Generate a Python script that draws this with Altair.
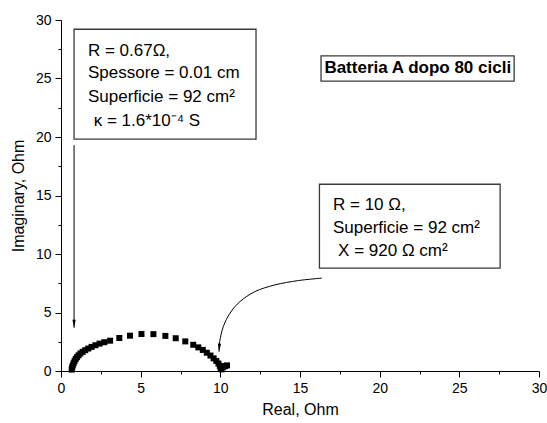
import altair as alt
import pandas as pd

# Impedance data (Real, Imaginary)
re_vals = [0.67, 0.70, 0.74, 0.79, 0.85, 0.92, 1.00, 1.10, 1.22, 1.36, 1.52, 1.71, 1.92,
           2.16, 2.42, 2.72, 3.08, 3.66, 4.33, 5.05, 5.80, 6.55, 7.20, 7.80, 8.30, 8.62,
           8.90, 9.15, 9.38, 9.58, 9.75, 9.88, 9.97, 10.02, 10.08, 10.18, 10.30, 10.42]
im_vals = [0.12, 0.30, 0.48, 0.66, 0.84, 1.02, 1.18, 1.34, 1.50, 1.64, 1.78, 1.92, 2.06,
           2.20, 2.34, 2.46, 2.59, 2.82, 3.02, 3.16, 3.15, 3.00, 2.80, 2.53, 2.24, 2.02,
           1.80, 1.56, 1.32, 1.08, 0.86, 0.64, 0.44, 0.26, 0.14, 0.32, 0.42, 0.48]

tick_vals = [0, 2.5, 5, 7.5, 10, 12.5, 15, 17.5, 20, 22.5, 25, 27.5, 30]

# Annotation boxes (data coordinates)
box_x1 = [0.82, 16.32, 16.22]
box_x2 = [12.24, 28.44, 27.56]
box_y1 = [29.21, 26.93, 15.96]
box_y2 = [19.82, 24.77, 8.79]

# Annotation texts
text1_lines = ["R = 0.67\u03a9,", "Spessore = 0.01 cm", "Superficie = 92 cm\u00b2", "\u03ba = 1.6*10\u207b\u2074 S"]
text1_x = [1.69, 1.69, 1.69, 2.05]
text1_y = [26.90, 25.03, 22.98, 20.93]

text3_lines = ["R = 10 \u03a9,", "Superficie = 92 cm\u00b2", "X = 920 \u03a9 cm\u00b2"]
text3_x = [17.07, 17.07, 17.39]
text3_y = [13.76, 11.80, 9.84]

title_text = ["Batteria A dopo 80 cicli"]
title_x = [16.53]
title_y = [25.43]

# Arrows
arrow1_x = [0.82, 0.82]
arrow1_y = [19.31, 3.69]
arrow2_x = [16.37, 14.90, 13.43, 12.18, 11.24, 10.61, 10.19, 9.96, 9.92]
arrow2_y = [7.94, 7.73, 7.36, 6.79, 5.94, 4.95, 3.81, 2.53, 1.65]
head_x = [0.82, 9.92]
head_y = [3.69, 1.65]
head_angle = [0, 3]

FONT = "Liberation Sans"

xs = alt.Scale(domain=[0, 30], nice=False, zero=False)
ys = alt.Scale(domain=[0, 30], nice=False, zero=False)

tick_size = {"condition": {"test": "datum.value % 5 === 0", "value": 6}, "value": 3}
label_expr = "datum.value % 5 === 0 ? datum.label : ''"

axis_common = dict(values=tick_vals, labelExpr=label_expr, tickSize=tick_size, grid=False,
                   domainColor="black", tickColor="black", labelColor="black",
                   titleColor="black", labelFont=FONT, titleFont=FONT, labelFontSize=14,
                   titleFontSize=16, titleFontWeight="normal", domainWidth=1, tickWidth=1)

x_axis = alt.Axis(labelPadding=4, titlePadding=6, labelFlush=False, **axis_common)
y_axis = alt.Axis(labelPadding=4, titlePadding=9, labelFlush=False, **axis_common)


def X(field):
    return alt.X(field, type="quantitative", scale=xs, axis=x_axis, title="Real, Ohm")


def Y(field):
    return alt.Y(field, type="quantitative", scale=ys, axis=y_axis, title="Imaginary, Ohm")


pts = pd.DataFrame({"re": re_vals, "im": im_vals})
points = alt.Chart(pts).mark_square(size=36, color="black", opacity=1).encode(
    x=X("re"), y=Y("im"),
)

boxes_df = pd.DataFrame({"x1": box_x1, "x2": box_x2, "y1": box_y1, "y2": box_y2})
boxes = alt.Chart(boxes_df).mark_rect(fill="white", stroke="#3a3a3a", strokeWidth=1.3).encode(
    x=X("x1"), x2="x2:Q", y=Y("y1"), y2="y2:Q",
)

t1 = pd.DataFrame({"x": text1_x, "y": text1_y, "t": text1_lines})
t3 = pd.DataFrame({"x": text3_x, "y": text3_y, "t": text3_lines})
tt = pd.DataFrame({"x": title_x, "y": title_y, "t": title_text})


def text_layer(df, weight="normal"):
    return alt.Chart(df).mark_text(align="left", baseline="alphabetic", font=FONT,
                                   fontSize=17, fontWeight=weight, color="black").encode(
        x=X("x"), y=Y("y"), text="t:N",
    )


a1 = pd.DataFrame({"x": arrow1_x, "y": arrow1_y, "o": list(range(len(arrow1_x)))})
a2 = pd.DataFrame({"x": arrow2_x, "y": arrow2_y, "o": list(range(len(arrow2_x)))})

line1 = alt.Chart(a1).mark_line(color="black", strokeWidth=1).encode(
    x=X("x"), y=Y("y"), order="o:Q")
line2 = alt.Chart(a2).mark_line(color="black", strokeWidth=1, interpolate="cardinal").encode(
    x=X("x"), y=Y("y"), order="o:Q")

heads_df = pd.DataFrame({"x": head_x, "y": head_y, "a": head_angle})
heads = alt.Chart(heads_df).mark_point(
    shape="M-0.8,-4L0,0L0.8,-4Z", size=16, filled=True, color="black", opacity=1,
    strokeWidth=0.5).encode(
    x=X("x"), y=Y("y"), angle=alt.Angle("a:Q", scale=None))

chart = alt.layer(
    boxes, line1, line2, heads, points,
    text_layer(t1), text_layer(t3), text_layer(tt, "bold"),
).properties(
    width=478, height=351,
    autosize=alt.AutoSizeParams(type="none"),
    padding={"left": 61, "top": 20, "right": 8, "bottom": 52},
    background="white",
).configure_view(stroke=None)

chart.save("out.html", embed_options={"renderer": "svg", "actions": False})
